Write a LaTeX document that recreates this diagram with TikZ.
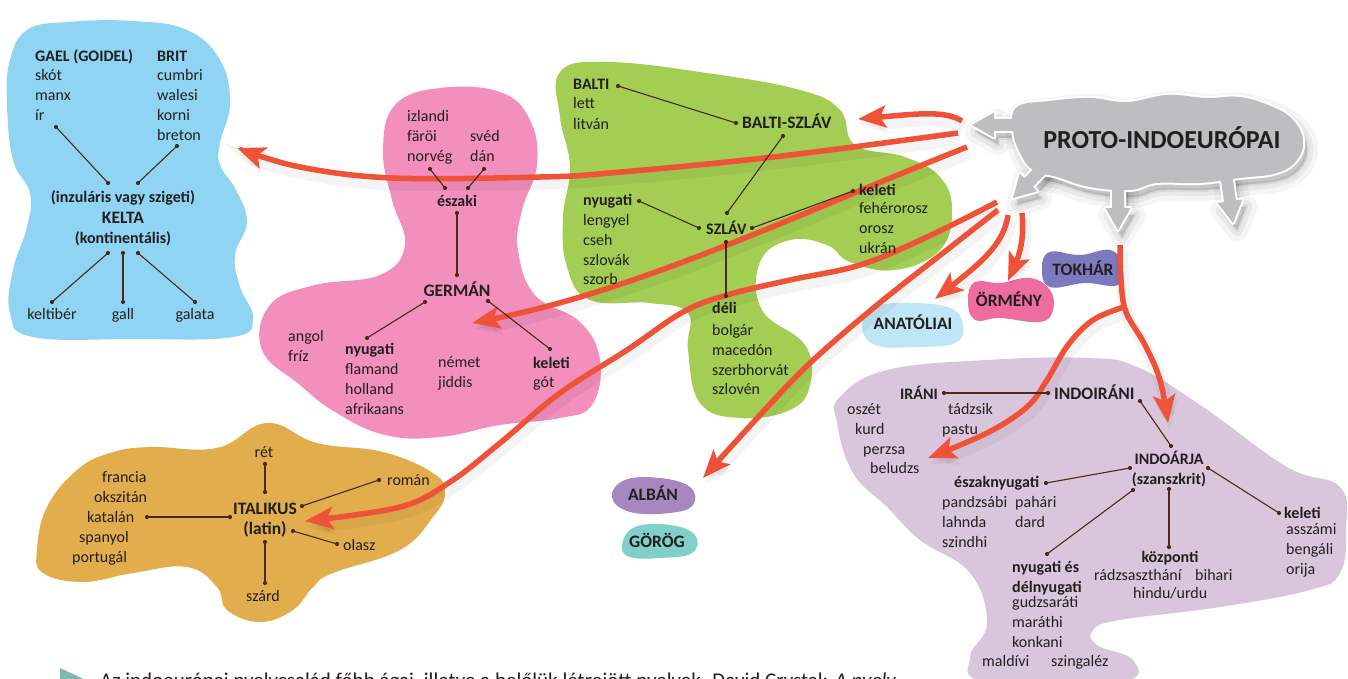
\documentclass[tikz,border=0pt]{standalone}
\usepackage{fontspec}
\setmainfont{Carlito}
\usetikzlibrary{arrows.meta}
\definecolor{celtblue}{HTML}{8FD5F3}
\definecolor{gerpink}{HTML}{F28FBD}
\definecolor{slavgreen}{HTML}{A3CD53}
\definecolor{italorange}{HTML}{E2AD4C}
\definecolor{indopurple}{HTML}{D9C6DC}
\definecolor{anatblue}{HTML}{BEE6F6}
\definecolor{armpink}{HTML}{EE6CA0}
\definecolor{tokpurple}{HTML}{7D79BE}
\definecolor{albpurple}{HTML}{A687C0}
\definecolor{greekteal}{HTML}{80CFC9}
\definecolor{piegray}{HTML}{BCBEC0}
\definecolor{arred}{HTML}{EF5236}
\definecolor{brn}{HTML}{4B2A18}
\definecolor{txtc}{HTML}{231F20}
\definecolor{captteal}{HTML}{7FB7B3}
\newcommand\piearrow[4]{\path[#1,shift={(#2)},rotate=#3] (0,0)--(-22,-12.5)--(-22,-6)--(-#4,-6)--(-#4,6)--(-22,6)--(-22,12.5)--cycle;}
\newcommand\piecloud[1]{%
 \path[#1] plot[smooth cycle,tension=0.7] coordinates {(1017,107) (1050,101) (1090,98) (1127,102) (1167,95) (1207,98) (1240,97) (1273,107) (1293,120) (1303,140) (1297,160) (1277,173) (1240,178) (1200,183) (1157,183) (1130,190) (1090,187) (1057,177) (1033,170) (1020,153) (1013,130)};
 \piearrow{#1}{972,125}{180}{48}
 \piearrow{#1}{1013,198}{225}{50}
 \piearrow{#1}{1118,230}{270}{50}
 \piearrow{#1}{1233,223}{278}{50}
}
\begin{document}
\begin{tikzpicture}[x=1pt,y=-1pt,
 t/.style={inner sep=0pt, text=txtc, font=\fontsize{16}{19}\selectfont, anchor=base west},
 tc/.style={t, anchor=base},
 b/.style={t, font=\fontsize{16}{19}\selectfont\bfseries},
 bc/.style={b, anchor=base},
 G/.style={t, font=\fontsize{17.5}{21}\selectfont\bfseries},
 Gc/.style={G, anchor=base},
 cn/.style={draw=brn, line width=1.1pt},
 dot/.style={fill=brn},
 ra/.style={draw=arred, line width=5.5pt, -{Stealth[length=28pt,width=22pt,inset=6pt]},
   preaction={draw=black, opacity=0.045, line width=13pt, transform canvas={shift={(2pt,-6pt)}}}}]
\useasboundingbox (0,0) rectangle (1348,679);
\fill[white] (0,0) rectangle (1348,679);

% ---------- blobs ----------
\fill[celtblue] plot[smooth cycle,tension=0.7] coordinates {(27,30) (67,22) (133,21) (187,30) (220,60) (230,103) (220,143) (220,165) (236,190) (247,222) (235,255) (240,287) (253,318) (233,337) (133,339) (33,337) (10,313) (13,270) (27,227) (30,193) (13,160) (7,103) (10,60)};
\fill[gerpink] plot[smooth cycle,tension=0.7] coordinates {(395,105) (440,88) (500,92) (530,120) (537,165) (522,210) (518,250) (535,295) (580,322) (600,360) (592,405) (560,418) (500,425) (440,437) (385,435) (335,412) (300,385) (262,350) (270,305) (315,285) (380,275) (405,245) (392,200) (383,150)};
\fill[slavgreen] plot[smooth cycle,tension=0.7] coordinates {(560,72) (607,62) (707,73) (800,90) (840,110) (855,145) (905,157) (940,177) (952,210) (940,250) (895,270) (850,262) (827,245) (790,240) (760,262) (762,310) (805,345) (810,385) (790,410) (740,418) (700,403) (688,350) (688,313) (650,303) (590,300) (567,267) (563,217) (570,167) (560,117)};
\fill[italorange] plot[smooth cycle,tension=0.7] coordinates {(37,550) (47,507) (77,470) (110,453) (150,447) (217,448) (267,423) (317,443) (383,452) (433,473) (445,493) (433,517) (400,550) (333,573) (313,587) (293,610) (260,622) (227,610) (217,587) (187,567) (133,573) (83,582) (43,573)};
\fill[indopurple] plot[smooth cycle,tension=0.7] coordinates {(840,397) (887,370) (987,360) (1087,358) (1137,367) (1203,407) (1287,467) (1340,487) (1346,530) (1340,573) (1310,590) (1220,607) (1120,620) (1093,630) (1097,645) (1133,660) (1120,682) (987,682) (970,657) (987,623) (970,573) (920,540) (887,507) (853,473) (837,423)};
\fill[anatblue] plot[smooth cycle,tension=0.7] coordinates {(862,325) (875,307) (910,303) (950,308) (963,325) (955,343) (915,347) (875,345)};
\fill[armpink] plot[smooth cycle,tension=0.7] coordinates {(968,300) (975,282) (1000,283) (1030,278) (1050,290) (1053,310) (1040,322) (1000,318) (975,320)};
\fill[tokpurple] plot[smooth cycle,tension=0.7] coordinates {(1042,268) (1050,252) (1080,255) (1110,250) (1122,265) (1118,285) (1085,283) (1050,287)};
\fill[albpurple] plot[smooth cycle,tension=0.7] coordinates {(612,497) (625,480) (660,478) (690,487) (693,505) (670,513) (630,512)};
\fill[greekteal] plot[smooth cycle,tension=0.7] coordinates {(622,545) (635,527) (670,525) (695,535) (692,553) (660,558) (630,557)};

% ---------- red arrows ----------
\coordinate (rA0) at (962,121); \coordinate (rA1) at (858,119);
\coordinate (rB0) at (958,133); \coordinate (rB1) at (237,148);
\coordinate (rC0) at (967,147); \coordinate (rC1) at (472,323);
\coordinate (rD0) at (997,202); \coordinate (rD1) at (305,521);
\coordinate (rE0) at (998,210); \coordinate (rE1) at (703,478);
\coordinate (rF0) at (1008,215); \coordinate (rF1) at (935,299);
\coordinate (rG0) at (1022,213); \coordinate (rG1) at (1008,281);
\coordinate (rH0) at (1120,245); \coordinate (rH1) at (1168,423);
\coordinate (split) at (1124,307); \coordinate (rI1) at (928,458);
\draw[ra] (rA0) .. controls (945,110) and (915,114) .. (rA1);
\draw[ra] plot[smooth,tension=0.6] coordinates {(rB0) (773,157) (610,173) (540,177) (393,178) (300,167) (rB1)};
\draw[ra] (rC0) .. controls (800,213) and (640,290) .. (rC1);
\draw[ra] plot[smooth,tension=0.6] coordinates {(rD0) (927,237) (860,265) (790,280) (727,295) (683,312) (627,350) (560,393) (500,443) (450,482) (400,507) (rD1)};
\draw[ra] plot[smooth,tension=0.6] coordinates {(rE0) (943,253) (877,305) (810,363) (760,415) (rE1)};
\draw[ra] (rF0) .. controls (1004,245) and (978,265) .. (rF1);
\draw[ra] (rG0) .. controls (1025,240) and (1018,258) .. (rG1);
\draw[ra] plot[smooth,tension=0.6] coordinates {(rH0) (1121,280) (1126,312) (1145,345) (1160,380) (rH1)};
\draw[ra] plot[smooth,tension=0.6] coordinates {(split) (1093,320) (1068,345) (1047,380) (1027,407) (987,433) (rI1)};

% ---------- PIE cloud ----------
\begin{scope}[transform canvas={shift={(4pt,-7pt)}}]
\piecloud{fill=black,draw=black,opacity=0.04,line width=22pt,line join=round}
\piecloud{fill=black,draw=black,opacity=0.05,line width=12pt,line join=round}
\piecloud{fill=black,draw=black,opacity=0.06,line width=4pt,line join=round}
\end{scope}
\piecloud{fill=white,draw=white,line width=4pt,line join=round}
\piecloud{fill=piegray}
\node[anchor=base, inner sep=0pt, text=txtc, font=\fontsize{26}{30}\selectfont\bfseries] (pie) at (1162,149) {PROTO-INDOEURÓPAI};

% ---------- connector end points ----------
\coordinate (kIr) at (56,127); \coordinate (kA1) at (108,183);
\coordinate (kBr) at (177,146); \coordinate (kA2) at (138,183);
\coordinate (kB1) at (108,253); \coordinate (kKe) at (52,302);
\coordinate (kB2) at (123,253); \coordinate (kGa) at (123,302);
\coordinate (kB3) at (138,253); \coordinate (kGl) at (195,302);
\coordinate (gN1) at (430,169); \coordinate (gE1) at (445,188);
\coordinate (gN2) at (484,169); \coordinate (gE2) at (468,188);
\coordinate (gE3) at (457,213); \coordinate (gG1) at (457,275);
\coordinate (gG2) at (425,302); \coordinate (gNy) at (367,338);
\coordinate (gG3) at (488,301); \coordinate (gKe) at (550,349);
\coordinate (sB1) at (618,86); \coordinate (sBS1) at (736,123);
\coordinate (sBS2) at (783,136); \coordinate (sS1) at (727,213);
\coordinate (sNy) at (639,201); \coordinate (sS2) at (699,228);
\coordinate (sKe) at (853,191); \coordinate (sS3) at (752,228);
\coordinate (sS4) at (726,242); \coordinate (sDe) at (726,296);
\coordinate (iR1) at (265,464); \coordinate (iI1) at (265,492);
\coordinate (iK) at (147,517); \coordinate (iI2) at (230,517);
\coordinate (iI3) at (302,506); \coordinate (iRo) at (379,480);
\coordinate (iI4) at (293,531); \coordinate (iOl) at (337,544);
\coordinate (iI5) at (265,542); \coordinate (iSz) at (265,583);
\coordinate (aIr) at (944,393); \coordinate (aII1) at (1048,393);
\coordinate (aII2) at (1140,401); \coordinate (aIA1) at (1171,446);
\coordinate (aIA2) at (1130,468); \coordinate (aENy) at (1046,483);
\coordinate (aIA3) at (1133,490); \coordinate (aNyD) at (1047,554);
\coordinate (aIA4) at (1169,489); \coordinate (aKoz) at (1169,547);
\coordinate (aIA5) at (1208,468); \coordinate (aKel) at (1279,513);
\foreach \p/\q in {kIr/kA1,kBr/kA2,kB1/kKe,kB2/kGa,kB3/kGl,
  gN1/gE1,gN2/gE2,gE3/gG1,gG2/gNy,gG3/gKe,
  sB1/sBS1,sBS2/sS1,sNy/sS2,sKe/sS3,sS4/sDe,
  iR1/iI1,iK/iI2,iI3/iRo,iI4/iOl,iI5/iSz,
  aIr/aII1,aII2/aIA1,aIA2/aENy,aIA3/aNyD,aIA4/aKoz,aIA5/aKel}{
  \draw[cn] (\p) -- (\q);
  \fill[dot] (\p) circle (2.1pt);
  \fill[dot] (\q) circle (2.1pt);
}

% ---------- KELTA ----------
\node[b] (gael) at (35,62) {GAEL (GOIDEL)};
\node[t] (skot) at (35,81) {skót};
\node[t] (manx) at (35,101) {manx};
\node[t] (ir) at (35,121) {ír};
\node[b] (brit) at (157,62) {BRIT};
\node[t] (cumbri) at (157,81) {cumbri};
\node[t] (walesi) at (157,101) {walesi};
\node[t] (korni) at (157,121) {korni};
\node[t] (breton) at (157,141) {breton};
\node[bc] (inz) at (123,202) {(inzuláris vagy szigeti)};
\node[Gc] (kelta) at (123,223) {KELTA};
\node[bc] (kont) at (123,243) {(kontinentális)};
\node[tc] (keltiber) at (52,319) {keltibér};
\node[tc] (gall) at (123,319) {gall};
\node[tc] (galata) at (195,319) {galata};

% ---------- GERMAN ----------
\node[t] (izlandi) at (407,122) {izlandi};
\node[t] (faroi) at (407,142) {färöi};
\node[t] (norveg) at (407,162) {norvég};
\node[t] (sved) at (470,142) {svéd};
\node[t] (dan) at (470,162) {dán};
\node[bc] (eszaki) at (457,206) {északi};
\node[Gc] (german) at (457,296) {GERMÁN};
\node[t] (angol) at (288,341) {angol};
\node[t] (friz) at (288,361) {fríz};
\node[b] (gnyug) at (345,354) {nyugati};
\node[t] (flamand) at (345,374) {flamand};
\node[t] (holland) at (345,394) {holland};
\node[t] (afrikaans) at (345,414) {afrikaans};
\node[t] (nemet) at (438,367) {német};
\node[t] (jiddis) at (438,387) {jiddis};
\node[b] (gkel) at (533,368) {keleti};
\node[t] (got) at (533,387) {gót};

% ---------- BALTI-SZLAV ----------
\node[b] (balti) at (573,90) {BALTI};
\node[t] (lett) at (573,109) {lett};
\node[t] (litvan) at (573,130) {litván};
\node[G] (baltszlav) at (742,129) {BALTI-SZLÁV};
\node[b] (snyug) at (583,205) {nyugati};
\node[t] (lengyel) at (583,225) {lengyel};
\node[t] (cseh) at (583,245) {cseh};
\node[t] (szlovak) at (583,265) {szlovák};
\node[t] (szorb) at (583,284) {szorb};
\node[b] (szlav) at (706,234) {SZLÁV};
\node[b] (skel) at (859,195) {keleti};
\node[t] (feher) at (859,213) {fehérorosz};
\node[t] (orosz) at (859,233) {orosz};
\node[t] (ukran) at (859,253) {ukrán};
\node[b] (deli) at (712,313) {déli};
\node[t] (bolgar) at (712,335) {bolgár};
\node[t] (maced) at (712,355) {macedón};
\node[t] (szerb) at (712,375) {szerbhorvát};
\node[t] (szloven) at (712,394) {szlovén};

% ---------- ITALIKUS ----------
\node[tc] (ret) at (264,457) {rét};
\node[t] (francia) at (102,482) {francia};
\node[t] (okszitan) at (94,502) {okszitán};
\node[t] (katalan) at (87,522) {katalán};
\node[t] (spanyol) at (79,542) {spanyol};
\node[t] (portugal) at (72,562) {portugál};
\node[Gc] (italikus) at (265,514) {ITALIKUS};
\node[Gc] (latin) at (265,534) {(latin)};
\node[t] (roman) at (387,485) {román};
\node[t] (olasz) at (343,550) {olasz};
\node[tc] (szard) at (263,601) {szárd};

% ---------- INDOIRANI ----------
\node[b] (irani) at (900,399) {IRÁNI};
\node[G] (indoir) at (1054,399) {INDOIRÁNI};
\node[t] (oszet) at (847,414) {oszét};
\node[t] (kurd) at (855,434) {kurd};
\node[t] (perzsa) at (863,454) {perzsa};
\node[t] (beludzs) at (870,473) {beludzs};
\node[t] (tadzsik) at (948,414) {tádzsik};
\node[t] (pastu) at (942,434) {pastu};
\node[bc] (indoarja) at (1169,464) {INDOÁRJA};
\node[bc] (szansz) at (1169,484) {(szanszkrit)};
\node[b] (eny) at (954,487) {északnyugati};
\node[t] (pandzs) at (942,507) {pandzsábi};
\node[t] (pahari) at (1015,507) {pahári};
\node[t] (lahnda) at (942,527) {lahnda};
\node[t] (dard) at (1015,527) {dard};
\node[t] (szindhi) at (942,547) {szindhi};
\node[b] (nyes) at (1012,572) {nyugati és};
\node[b] (delny) at (1012,592) {délnyugati};
\node[t] (gudzs) at (1012,607) {gudzsaráti};
\node[t] (marathi) at (1012,627) {maráthi};
\node[t] (konkani) at (1012,647) {konkani};
\node[t] (maldivi) at (982,666) {maldívi};
\node[t] (szingalez) at (1051,666) {szingaléz};
\node[bc] (kozponti) at (1170,562) {központi};
\node[t] (radzs) at (1094,580) {rádzsaszthání};
\node[t] (bihari) at (1195,580) {bihari};
\node[t] (hindu) at (1133,598) {hindu/urdu};
\node[b] (ikel) at (1284,518) {keleti};
\node[t] (asszami) at (1286,534) {asszámi};
\node[t] (bengali) at (1286,554) {bengáli};
\node[t] (orija) at (1286,574) {orija};

% ---------- small branches ----------
\node[Gc] (anat) at (913,329) {ANATÓLIAI};
\node[Gc] (orm) at (1009,306) {ÖRMÉNY};
\node[Gc] (tokh) at (1083,275) {TOKHÁR};
\node[Gc] (alban) at (653,500) {ALBÁN};
\node[Gc] (gorog) at (657,547) {GÖRÖG};

% ---------- caption (cut off by the page edge, as in the reference) ----------
\fill[captteal] (60,668) -- (90,682) -- (60,696) -- cycle;
\node[anchor=base west, inner sep=0pt, text=txtc, font=\fontsize{21}{25}\selectfont] (cap) at (100,687) {Az indoeurópai nyelvcsalád főbb ágai, illetve a belőlük létrejött nyelvek. David Crystal: \textit{A nyelv}};
\end{tikzpicture}
\end{document}
